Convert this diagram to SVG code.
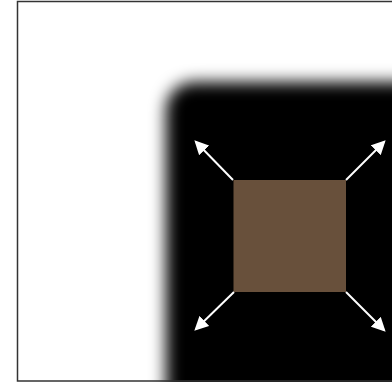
<svg xmlns="http://www.w3.org/2000/svg" width="392" height="382" viewBox="0 0 392 382">
  <defs>
    <filter id="blur" x="-20%" y="-20%" width="140%" height="140%">
      <feGaussianBlur stdDeviation="8"/>
    </filter>
    <marker id="head2" viewBox="0 0 12 12" refX="10" refY="6" markerWidth="14" markerHeight="14" markerUnits="userSpaceOnUse" orient="auto">
      <path d="M0,0 L12,6 L0,12 Z" fill="#ffffff"/>
    </marker>
  </defs>
  <rect x="0" y="0" width="392" height="382" fill="#ffffff"/>
  <g id="shadow">
    <rect x="166" y="82" width="280" height="340" rx="28" fill="#000000" filter="url(#blur)"/>
  </g>
  <g id="box">
    <rect x="233.5" y="180" width="112.5" height="112" fill="#68503b"/>
  </g>
  <g id="connectors">
    <line x1="233" y1="180" x2="196" y2="142" stroke="#ffffff" stroke-width="2" marker-end="url(#head2)"/>
    <line x1="346" y1="180" x2="384" y2="142" stroke="#ffffff" stroke-width="2" marker-end="url(#head2)"/>
    <line x1="234" y1="292" x2="196" y2="329" stroke="#ffffff" stroke-width="2" marker-end="url(#head2)"/>
    <line x1="346" y1="292" x2="384" y2="330" stroke="#ffffff" stroke-width="2" marker-end="url(#head2)"/>
  </g>
  <g id="frame">
    <path d="M392,1.5 L17.5,1.5 L17.5,381 L392,381" fill="none" stroke="#333333" stroke-width="1.5"/>
  </g>
</svg>
